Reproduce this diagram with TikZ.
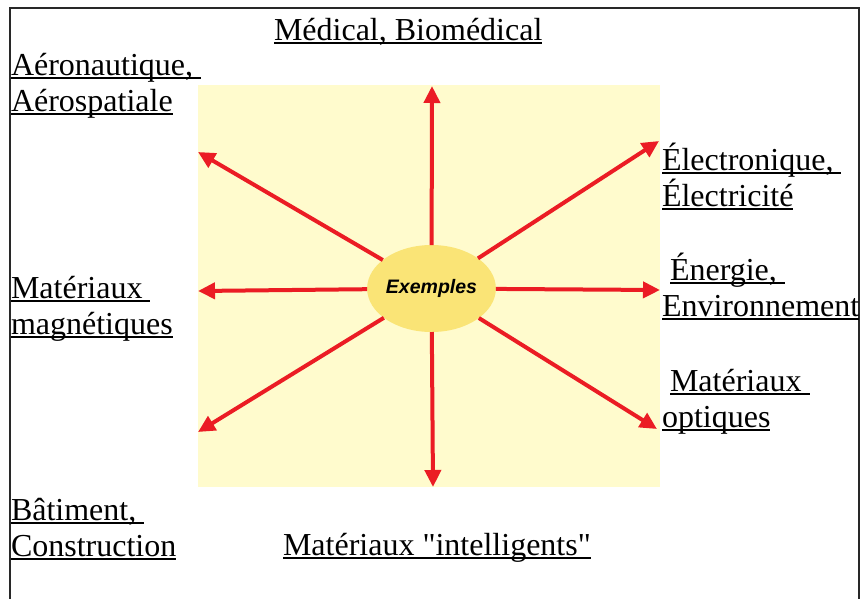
\documentclass[tikz,border=0pt]{standalone}
\usepackage{fontspec}
\setmainfont{Liberation Serif}
\newfontfamily\tnr{Liberation Serif}
\newfontfamily\exfont{Liberation Sans}
\usetikzlibrary{arrows.meta,shapes.geometric}
\definecolor{arrred}{RGB}{235,28,36}
\definecolor{bgyel}{RGB}{255,251,205}
\definecolor{ellyel}{RGB}{250,228,118}
\definecolor{framegray}{RGB}{40,40,40}
\newcommand\ulx[1]{\setbox0=\hbox{#1}\rlap{\rule[-3.6pt]{\wd0}{1.8pt}}\box0}
\begin{document}
\begin{tikzpicture}[x=1pt,y=-1pt,
  lbl/.style={anchor=base west,inner sep=0pt,outer sep=0pt,font=\tnr\fontsize{32}{36}\selectfont},
  arr/.style={draw=arrred,line width=4pt,-{Triangle[length=17pt,width=16pt]}},
  hub/.style={ellipse,fill=ellyel,minimum width=125pt,minimum height=87pt,inner sep=0pt,outer sep=0pt,font=\exfont\bfseries\itshape\fontsize{19.5}{22}\selectfont}
]
\useasboundingbox (0,0) rectangle (860,598);
\fill[white] (0,0) rectangle (860,598);
\fill[bgyel] (198,85) rectangle (660,487);
\draw[framegray,line width=2pt] (10,600) -- (10,8) -- (859,8) -- (859,600);

\node[hub] (ex) at (431.5,288.5) {Exemples};

\coordinate (tN) at (432,86);
\coordinate (tS) at (433,487);
\coordinate (tW) at (198,291);
\coordinate (tE) at (660,290);
\coordinate (tNW) at (198,152);
\coordinate (tNE) at (659,141);
\coordinate (tSW) at (198,432);
\coordinate (tSE) at (657,429);

\foreach \t in {tN,tS,tW,tE,tNW,tNE,tSW,tSE}
  \draw[arr] (ex) -- (\t);

\node[lbl] (med) at (274,40) {\ulx{Médical, Biomédical}};
\node[lbl] (aero) at (11,75) {\vtop{\hbox{\ulx{Aéronautique,\ }}\hbox{\ulx{Aérospatiale}}}};
\node[lbl] (mag) at (11,298) {\vtop{\hbox{\ulx{Matériaux\ }}\hbox{\ulx{magnétiques}}}};
\node[lbl] (bat) at (11,520) {\vtop{\hbox{\ulx{Bâtiment,\ }}\hbox{\ulx{Construction}}}};
\node[lbl] (intel) at (283,555) {\ulx{Matériaux "intelligents"}};
\node[lbl] (elec) at (662,170) {\vtop{\hbox{\ulx{Électronique,\ }}\hbox{\ulx{Électricité}}}};
\node[lbl] (ener) at (662,280) {\vtop{\hbox{\ \ulx{Énergie,\ }}\hbox{\ulx{Environnement}}}};
\node[lbl] (opt) at (662,391) {\vtop{\hbox{\ \ulx{Matériaux\ }}\hbox{\ulx{optiques}}}};
\end{tikzpicture}
\end{document}
